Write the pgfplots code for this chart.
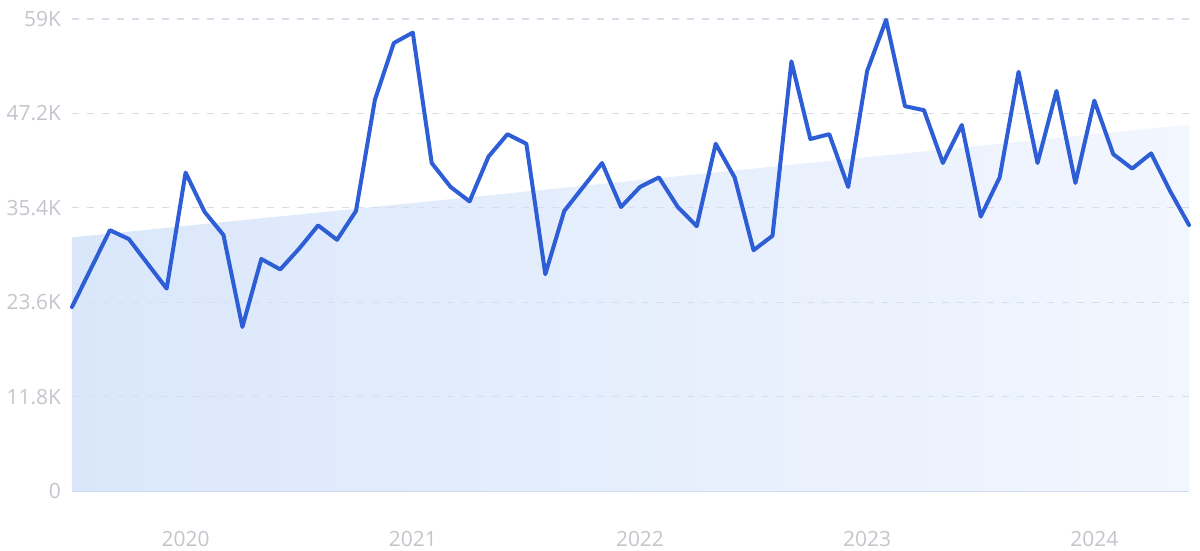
\documentclass[border=0pt]{standalone}
\usepackage{pgfplots}
\pgfplotsset{compat=1.18}
\usepackage{fontspec}
\setmainfont{Open Sans}
\definecolor{lineblue}{RGB}{46,94,214}
\definecolor{gridc}{RGB}{214,221,235}
\definecolor{labc}{RGB}{196,197,204}
\definecolor{axisc}{RGB}{205,220,243}
\definecolor{shadeL}{RGB}{218,231,251}
\definecolor{shadeR}{RGB}{242,246,254}
\begin{document}
\begin{tikzpicture}
\useasboundingbox (-36bp,-30bp) rectangle (564bp,245.5bp);
\begin{axis}[
  at={(0,0)}, anchor=south west,
  scale only axis, width=558.5bp, height=236bp,
  xmin=0, xmax=59, ymin=0, ymax=59,
  axis lines=left,
  x axis line style={draw=axisc, line width=1bp, -},
  y axis line style={draw=none},
  xtick={6,18,30,42,54},
  xticklabels={2020,2021,2022,2023,2024},
  ytick={0,11.8,23.6,35.4,47.2,59},
  yticklabels={0,11.8K,23.6K,35.4K,47.2K,59K},
  major tick length=0pt,
  tick label style={font=\fontsize{10.5}{12}\selectfont, text=labc},
  xticklabel style={yshift=-16.5bp},
  yticklabel style={xshift=-2bp},
  clip=false,
]
\addplot[draw=none, left color=shadeL, right color=shadeR]
  coordinates {(0,31.7) (59,45.8)} \closedcycle;
\pgfplotsinvokeforeach{11.8,23.6,35.4,47.2,59}{
  \addplot[draw=gridc, line width=0.6bp, dash pattern=on 3.5bp off 4bp, forget plot]
    coordinates {(0,#1) (59,#1)};
}
\addplot[lineblue, line width=2bp, line join=round, line cap=round] coordinates {
(0,23.0) (1,27.8) (2,32.6) (3,31.5) (4,28.4) (5,25.3) (6,39.8) (7,34.9) (8,32.0) (9,20.5)
(10,29.0) (11,27.7) (12,30.3) (13,33.2) (14,31.4) (15,35.0) (16,48.9) (17,56.0) (18,57.3) (19,41.0)
(20,38.0) (21,36.2) (22,41.8) (23,44.6) (24,43.4) (25,27.1) (26,35.0) (27,38.0) (28,41.0) (29,35.5)
(30,38.0) (31,39.2) (32,35.5) (33,33.1) (34,43.4) (35,39.2) (36,30.1) (37,31.9) (38,53.7) (39,44.0)
(40,44.6) (41,38.0) (42,52.5) (43,58.9) (44,48.1) (45,47.6) (46,41.0) (47,45.75) (48,34.3) (49,39.2)
(50,52.4) (51,41.0) (52,50.0) (53,38.5) (54,48.8) (55,42.1) (56,40.3) (57,42.2) (58,37.5) (59,33.25)
};
\end{axis}
\end{tikzpicture}
\end{document}
